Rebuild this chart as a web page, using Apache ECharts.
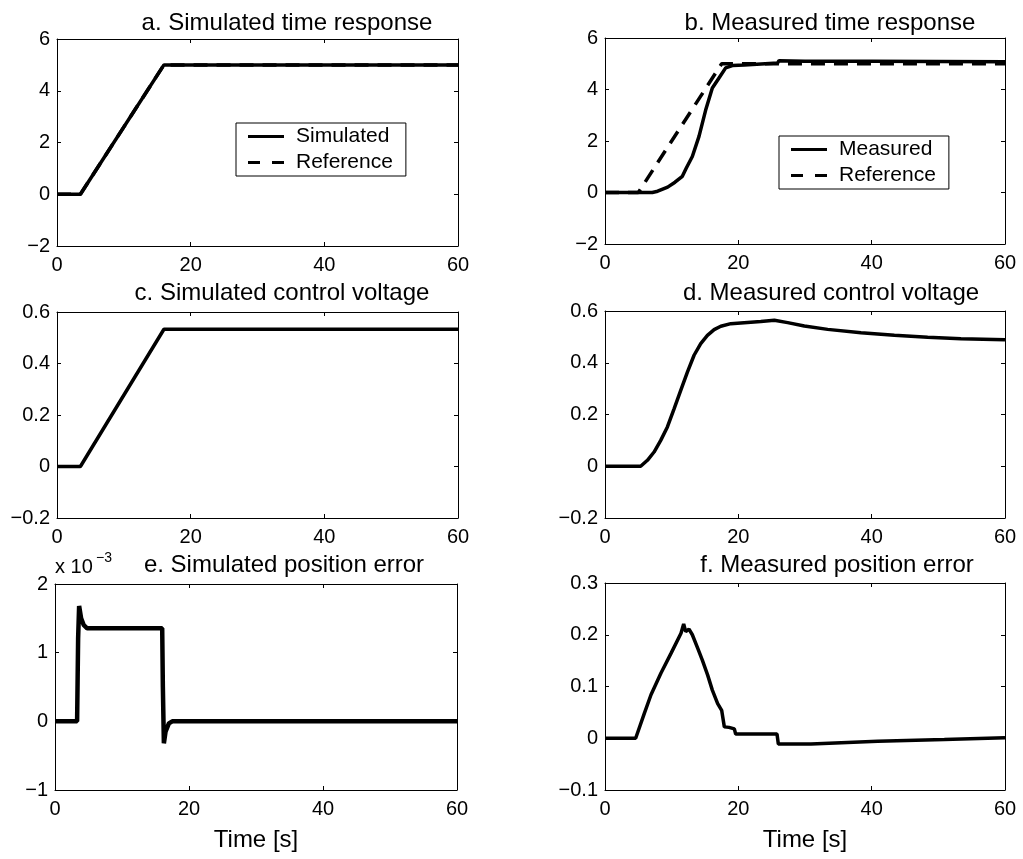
<!DOCTYPE html>
<html>
<head>
<meta charset="utf-8">
<script src="https://cdn.jsdelivr.net/npm/echarts@6/dist/echarts.min.js"></script>
<style>
html,body{margin:0;padding:0;background:#fff;}
#main{width:1023px;height:859px;}
</style>
</head>
<body>
<div id="main"></div>
<script>
// ---------- data (time in s) ----------
// a. Simulated time response
const simA_t = [0, 3.5, 16, 60];
const simA_v = [0, 0, 5, 5];
const refA_t = [0, 3.5, 16, 60];
const refA_v = [0, 0, 5, 5];
// b. Measured time response
const measB_t = [0, 7.1, 7.9, 9.4, 10.5, 11.6, 12.2, 13.1, 14.1, 15.1, 16.1, 17.1, 18.1, 19.1, 20.9, 25.9, 26.1, 30, 40, 50, 60];
const measB_v = [0, 0, 0.05, 0.21, 0.4, 0.63, 0.95, 1.4, 2.18, 3.2, 4.06, 4.45, 4.84, 4.93, 4.95, 5.03, 5.12, 5.1, 5.1, 5.09, 5.08];
const refB_t = [0, 5, 17.5, 60];
const refB_v = [0, 0, 5, 5];
// c. Simulated control voltage
const simC_t = [0, 3.5, 16, 60];
const simC_v = [0, 0, 0.533, 0.533];
// d. Measured control voltage
const measD_t = [0, 5.35, 6.36, 7.36, 8.36, 9.36, 10.36, 11.36, 12.36, 13.36, 14.36, 15.36, 16.37, 17.37, 18.87, 20.87, 23.37, 25.4, 27.4, 29.9, 33.4, 38.4, 43.4, 48.4, 53.4, 60];
const measD_v = [0, 0, 0.023, 0.055, 0.10, 0.152, 0.222, 0.293, 0.364, 0.429, 0.474, 0.506, 0.528, 0.541, 0.551, 0.555, 0.559, 0.564, 0.555, 0.542, 0.529, 0.516, 0.506, 0.499, 0.493, 0.489];
// e. Simulated position error (values in units of 1e-3)
const simE_t = [0, 3.3, 3.45, 3.6, 3.9, 4.3, 4.8, 16.0, 16.1, 16.25, 16.5, 17.0, 17.5, 60];
const simE_v = [0, 0, 1.2, 1.68, 1.5, 1.4, 1.355, 1.355, 0.5, -0.32, -0.15, -0.03, 0, 0];
// f. Measured position error
const measF_t = [0, 4.6, 5.9, 6.9, 8.4, 9.9, 11.4, 11.8, 12.1, 12.6, 13.1, 13.9, 14.6, 15.4, 16.1, 16.9, 17.5, 17.9, 18.6, 19.4, 19.6, 25.8, 26.0, 30.9, 40.9, 50.9, 60];
const measF_v = [0, 0, 0.048, 0.084, 0.126, 0.164, 0.203, 0.221, 0.206, 0.211, 0.2, 0.174, 0.151, 0.122, 0.093, 0.067, 0.054, 0.022, 0.021, 0.018, 0.008, 0.008, -0.011, -0.011, -0.006, -0.0025, 0.001];

// axis ranges / ticks
const xRange = {min: 0, max: 60, interval: 20};
const yRanges = [
  {min: -2, max: 6, interval: 2},
  {min: -2, max: 6, interval: 2},
  {min: -0.2, max: 0.6, interval: 0.2},
  {min: -0.2, max: 0.6, interval: 0.2},
  {min: -1, max: 2, interval: 1},
  {min: -0.1, max: 0.3, interval: 0.1}
];
const titles = ['a. Simulated time response', 'b. Measured time response',
  'c. Simulated control voltage', 'd. Measured control voltage',
  'e. Simulated position error', 'f. Measured position error'];
const xName = 'Time [s]';

// ---------- layout ----------
const grids = [
  {left: 57, top: 39, width: 401, height: 207},
  {left: 605, top: 38, width: 400, height: 206},
  {left: 57, top: 312, width: 401, height: 206},
  {left: 605, top: 311, width: 400, height: 207},
  {left: 55, top: 584, width: 402, height: 206},
  {left: 605, top: 583, width: 400, height: 207}
];
const titlePos = [[287, 11], [830, 11], [282, 281], [831, 281], [284, 553], [837, 553]];

const FONT = "'Liberation Sans', Arial, Helvetica, sans-serif";
const pairs = (t, v) => t.map((x, i) => [x, v[i]]);
const fmt = v => {
  let s = String(Math.round(v * 1000) / 1000);
  return s.replace('-', '\u2212');
};

const xAxes = [], yAxes = [], series = [];
grids.forEach((g, i) => {
  const line = {show: true, onZero: false, lineStyle: {color: '#000', width: 1}};
  const tick = {show: true, inside: true, length: 4, lineStyle: {color: '#000'}};
  xAxes.push({
    type: 'value', gridIndex: i, position: 'bottom', ...xRange,
    axisLine: line, axisTick: tick,
    axisLabel: {color: '#000', fontSize: 20, fontFamily: FONT, margin: 9, formatter: fmt},
    splitLine: {show: false},
    name: i >= 4 ? xName : '', nameLocation: 'middle', nameGap: 38,
    nameTextStyle: {color: '#000', fontSize: 24, fontFamily: FONT}
  });
  xAxes.push({
    type: 'value', gridIndex: i, position: 'top', ...xRange,
    axisLine: line, axisTick: tick,
    axisLabel: {show: false}, splitLine: {show: false}
  });
  yAxes.push({
    type: 'value', gridIndex: i, position: 'left', ...yRanges[i],
    axisLine: line, axisTick: tick,
    axisLabel: {color: '#000', fontSize: 20, fontFamily: FONT, margin: 7, formatter: fmt},
    splitLine: {show: false}
  });
  yAxes.push({
    type: 'value', gridIndex: i, position: 'right', ...yRanges[i],
    axisLine: line, axisTick: tick,
    axisLabel: {show: false}, splitLine: {show: false}
  });
});

const DASH = [14, 9];
function addLine(idx, name, t, v, dashed, width) {
  series.push({
    type: 'line', name: name, xAxisIndex: idx * 2, yAxisIndex: idx * 2,
    data: pairs(t, v), symbol: 'none', showSymbol: false, animation: false,
    lineStyle: {color: '#000', width: width, type: dashed ? DASH : 'solid'},
    itemStyle: {color: '#000'}
  });
}
addLine(0, 'Reference', refA_t, refA_v, true, 3.5);
addLine(0, 'Simulated', simA_t, simA_v, false, 3.5);
addLine(1, 'Reference', refB_t, refB_v, true, 3.5);
addLine(1, 'Measured', measB_t, measB_v, false, 3.5);
addLine(2, 'Simulated control voltage', simC_t, simC_v, false, 3.5);
addLine(3, 'Measured control voltage', measD_t, measD_v, false, 3.5);
addLine(4, 'Simulated position error', simE_t, simE_v, false, 4.5);
addLine(5, 'Measured position error', measF_t, measF_v, false, 3.5);

const titleOpts = titles.map((t, i) => ({
  text: t, left: titlePos[i][0], top: titlePos[i][1], textAlign: 'center', padding: 0,
  textStyle: {color: '#000', fontSize: 24, fontWeight: 'normal', fontFamily: FONT, lineHeight: 24}
}));
// exponent label for panel e
titleOpts.push({text: 'x 10', left: 55, top: 557, padding: 0,
  textStyle: {color: '#000', fontSize: 20, fontWeight: 'normal', fontFamily: FONT, lineHeight: 20}});
titleOpts.push({text: '\u22123', left: 96, top: 551, padding: 0,
  textStyle: {color: '#000', fontSize: 14, fontWeight: 'normal', fontFamily: FONT, lineHeight: 14}});

const SOLID_ICON = 'path://M0,0H36V3H0Z';
const DASH_ICON = 'path://M0,0H12V3H0Z M24,0H36V3H24Z';
const legendBase = {
  orient: 'vertical', itemWidth: 36, itemHeight: 3, itemGap: 5,
  borderColor: '#000', borderWidth: 1, borderRadius: 0, backgroundColor: '#fff',
  selectedMode: false,
  itemStyle: {color: '#000', borderWidth: 0},
  textStyle: {color: '#000', fontSize: 21, fontFamily: FONT, lineHeight: 21, padding: [0, 0, 0, 7]}
};

const option = {
  backgroundColor: '#fff',
  animation: false,
  title: titleOpts,
  grid: grids.map(g => ({...g, containLabel: false})),
  xAxis: xAxes,
  yAxis: yAxes,
  legend: [
    {...legendBase, left: 236, top: 123, padding: [3, 13, 3, 12],
      data: [{name: 'Simulated', icon: SOLID_ICON}, {name: 'Reference', icon: DASH_ICON}]},
    {...legendBase, left: 779, top: 136, padding: [3, 13, 3, 12],
      data: [{name: 'Measured', icon: SOLID_ICON}, {name: 'Reference', icon: DASH_ICON}]}
  ],
  series: series
};

const chart = echarts.init(document.getElementById('main'), null, {renderer: 'canvas'});
chart.setOption(option);
</script>
</body>
</html>
